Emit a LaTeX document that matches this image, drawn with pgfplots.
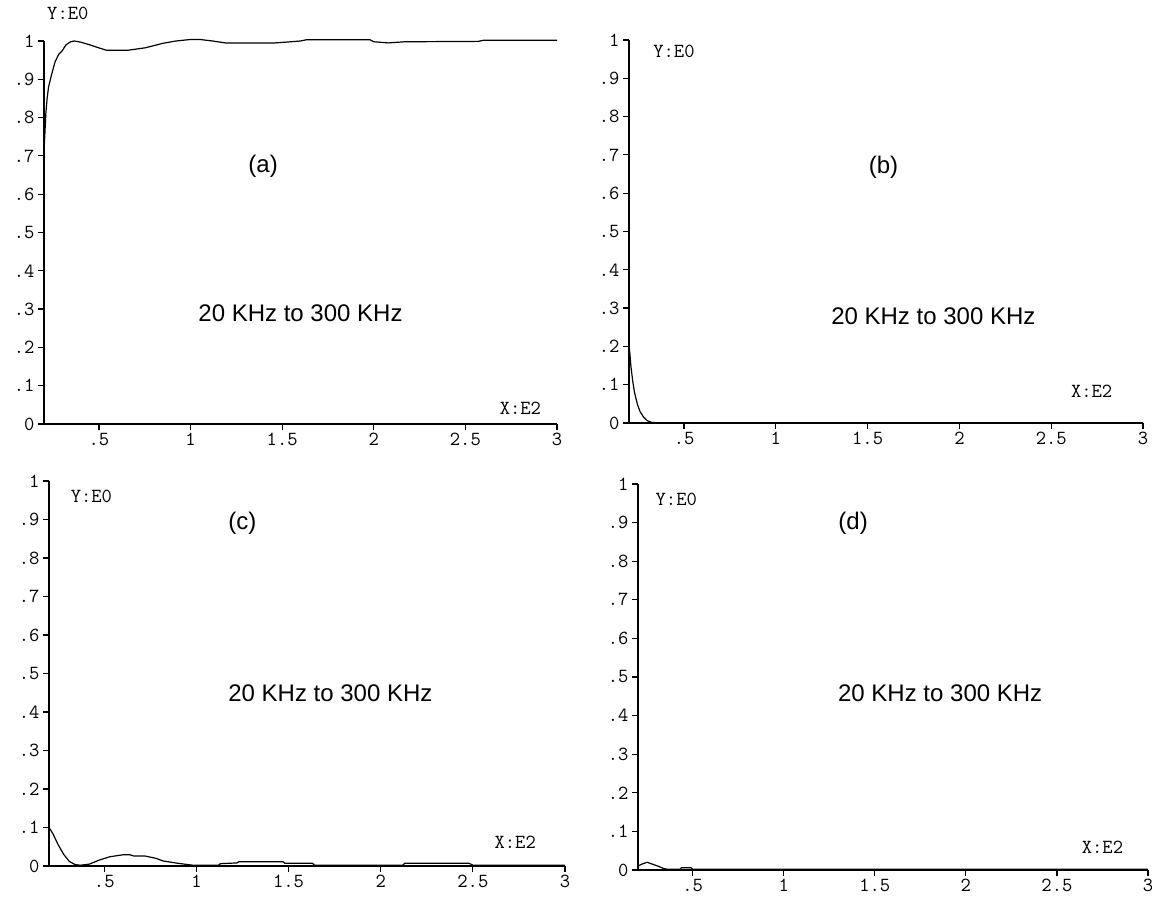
\documentclass[border=0pt]{standalone}
\usepackage{pgfplots}
\pgfplotsset{compat=1.18}
\usepackage{fontspec}
\setmainfont{Liberation Sans}

\newcommand{\tickfont}{\ttfamily\addfontfeature{FakeBold=1}\fontsize{20}{20}\selectfont}

\pgfplotsset{
  panel/.style={
    scale only axis,
    xmin=0.2, xmax=3, ymin=0, ymax=1,
    axis x line=bottom, axis y line=left,
    x axis line style={-, line width=1.5pt},
    y axis line style={-, line width=1.5pt},
    tick align=outside,
    major tick length=6pt,
    every tick/.style={black, line width=1.2pt},
    xtick={0.5,1,1.5,2,2.5,3},
    xticklabels={.5,1,1.5,2,2.5,3},
    ytick={0,0.1,0.2,0.3,0.4,0.5,0.6,0.7,0.8,0.9,1},
    yticklabels={0,.1,.2,.3,.4,.5,.6,.7,.8,.9,1},
    xticklabel style={font=\tickfont},
    yticklabel style={font=\tickfont},
    /pgf/number format/assume math mode=true,
    clip=false,
    anchor=south west,
  },
  curve/.style={black, line width=1.2pt, no marks},
}
\tikzset{
  lab/.style={font=\ttfamily\addfontfeature{FakeBold=1}\fontsize{20}{20}\selectfont},
  ann/.style={font=\fontsize{24}{24}\selectfont},
}

\begin{document}
\begin{tikzpicture}
\useasboundingbox (0,0) rectangle (1152pt,898pt);

% (a)
\begin{axis}[panel, at={(44pt,474pt)}, width=513pt, height=383pt]
\addplot[curve] coordinates {
(0.2,0.71) (0.205,0.76) (0.21,0.81) (0.217,0.85) (0.225,0.88) (0.24,0.91)
(0.26,0.945) (0.28,0.965) (0.30,0.975) (0.32,0.99) (0.345,0.998) (0.365,1.0)
(0.40,0.997) (0.45,0.99) (0.5,0.982) (0.54,0.976) (0.66,0.976) (0.75,0.982)
(0.85,0.994) (0.92,1.0) (1.0,1.004) (1.05,1.004) (1.12,1.0) (1.19,0.995)
(1.46,0.995) (1.52,0.997) (1.6,1.0) (1.63,1.003) (1.98,1.003) (2.0,0.998)
(2.08,0.995) (2.17,0.998) (2.57,0.999) (2.6,1.002) (3.0,1.002)
};
\node[lab] at (axis cs:0.33,1.073) {Y:E0};
\node[lab] at (axis cs:2.8,0.042) {X:E2};
\node[ann] at (axis cs:1.396,0.673) {(a)};
\node[ann] at (axis cs:1.60,0.288) {20 KHz to 300 KHz};
\end{axis}

% (b)
\begin{axis}[panel, at={(629pt,475pt)}, width=514pt, height=383pt]
\addplot[curve] coordinates {
(0.2,0.2) (0.205,0.18) (0.21,0.15) (0.22,0.11) (0.23,0.08) (0.245,0.05)
(0.26,0.03) (0.28,0.015) (0.30,0.006) (0.32,0.002) (0.34,0.001) (3,0.001)
};
\node[lab] at (axis cs:0.445,0.97) {Y:E0};
\node[lab] at (axis cs:2.72,0.083) {X:E2};
\node[ann] at (axis cs:1.586,0.668) {(b)};
\node[ann] at (axis cs:1.858,0.279) {20 KHz to 300 KHz};
\end{axis}

% (c)
\begin{axis}[panel, at={(49pt,32pt)}, width=516pt, height=385pt]
\addplot[curve] coordinates {
(0.2,0.1) (0.22,0.085) (0.25,0.055) (0.28,0.03) (0.31,0.012) (0.34,0.004)
(0.37,0.002) (0.42,0.005) (0.47,0.015) (0.53,0.024) (0.6,0.029) (0.64,0.029)
(0.66,0.026) (0.72,0.026) (0.78,0.02) (0.82,0.013) (0.9,0.007) (0.98,0.002)
(1.12,0.002) (1.13,0.006) (1.22,0.008) (1.23,0.011) (1.47,0.011) (1.48,0.007)
(1.63,0.007) (1.64,0.002) (2.12,0.002) (2.13,0.007) (2.48,0.007) (2.5,0.002)
(3,0.002)
};
\node[lab] at (axis cs:0.43,0.96) {Y:E0};
\node[lab] at (axis cs:2.73,0.061) {X:E2};
\node[ann] at (axis cs:1.249,0.891) {(c)};
\node[ann] at (axis cs:1.727,0.449) {20 KHz to 300 KHz};
\end{axis}

% (d)
\begin{axis}[panel, at={(638pt,28pt)}, width=510pt, height=386pt]
\addplot[curve] coordinates {
(0.2,0.01) (0.22,0.015) (0.25,0.02) (0.28,0.015) (0.31,0.01) (0.34,0.004)
(0.36,0.002) (0.43,0.002) (0.44,0.006) (0.49,0.006) (0.5,0.002) (3,0.002)
};
\node[lab] at (axis cs:0.41,0.96) {Y:E0};
\node[lab] at (axis cs:2.75,0.059) {X:E2};
\node[ann] at (axis cs:1.381,0.899) {(d)};
\node[ann] at (axis cs:1.859,0.459) {20 KHz to 300 KHz};
\end{axis}
\end{tikzpicture}
\end{document}
